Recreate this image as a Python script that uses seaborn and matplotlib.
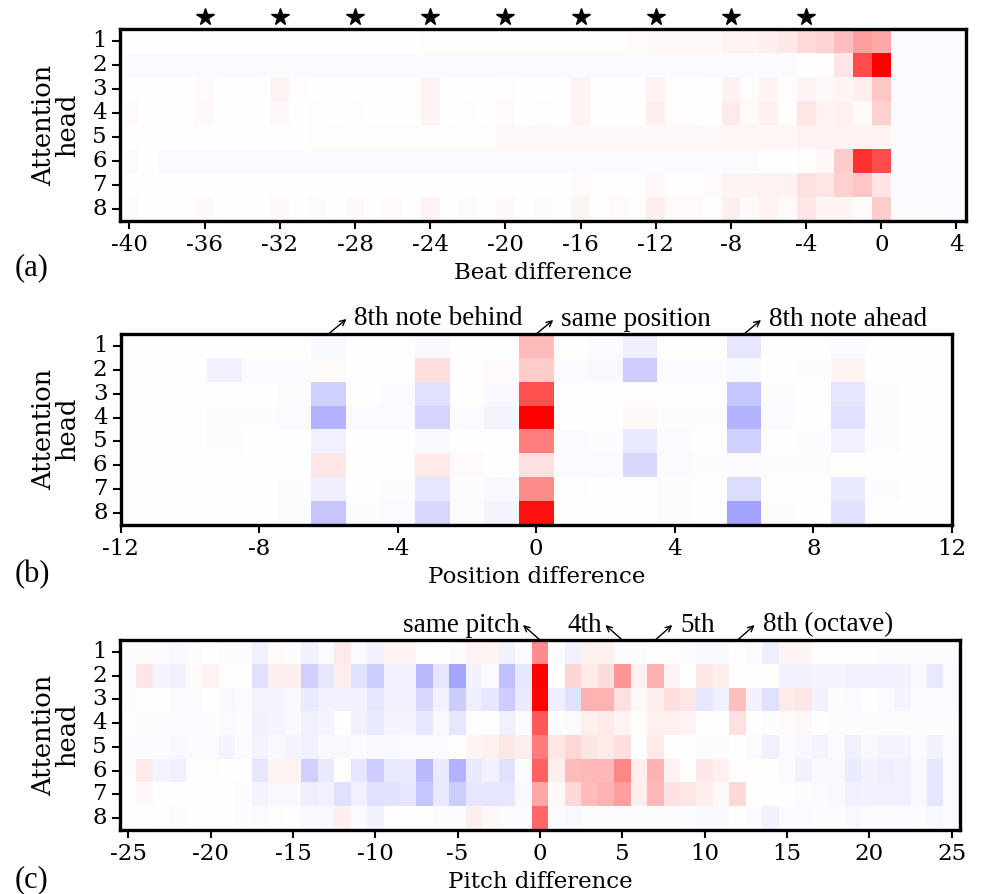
import numpy as np
import matplotlib
matplotlib.use('Agg')
import matplotlib.pyplot as plt
import pandas as pd
import seaborn as sns

plt.rcParams['font.family'] = 'DejaVu Serif'

heads = [1, 2, 3, 4, 5, 6, 7, 8]

# (a) beat difference, columns -40 .. 4
beat_diff = list(range(-40, 5))
beat_h1 = [0.0, 0.0, 0.0, 0.0, 0.0, 0.0, 0.0, 0.0, 0.0, 0.0, 0.0, 0.0, 0.0, 0.0, 0.0, 0.0,
           0.01, 0.01, 0.01, 0.01, 0.01, 0.01, 0.015, 0.015, 0.015, 0.015, 0.015,
           0.02, 0.03, 0.03, 0.03, 0.03, 0.05, 0.05, 0.07, 0.09, 0.15, 0.17, 0.25, 0.38,
           0.34, -0.02, -0.02, -0.02, -0.02]
beat_h2 = [-0.02] * 36 + [0.0, 0.01, 0.1, 0.7, 1.0, -0.02, -0.02, -0.02, -0.02]
beat_h3 = [0.0, 0.0, 0.0, 0.0, 0.02, 0.0, 0.0, 0.0, 0.04, 0.01, 0.0, 0.0, 0.005, 0.0,
           0.0, 0.0, 0.04, 0.0, 0.0, 0.0, 0.01, 0.0, 0.005, 0.0, 0.04, 0.0, 0.005,
           0.0, 0.05, 0.01, 0.01, 0.0, 0.05, 0.01, 0.04, 0.01, 0.04, 0.03, 0.04, 0.07,
           0.22, -0.02, -0.02, -0.02, -0.02]
beat_h4 = [0.02, 0.0, 0.0, 0.0, 0.03, 0.0, 0.0, 0.0, 0.03, 0.0, 0.01, 0.0, 0.01, 0.0,
           0.0, 0.0, 0.04, 0.0, 0.01, 0.0, 0.02, 0.005, 0.01, 0.0, 0.04, 0.005, 0.005,
           0.005, 0.07, 0.01, 0.01, 0.0, 0.08, 0.02, 0.06, 0.01, 0.1, 0.05, 0.06, 0.02,
           0.18, -0.02, -0.02, -0.02, -0.02]
beat_h5 = [0.0] * 10 + [0.015] * 10 + [0.025] * 12 + [0.035] * 4 + [0.05] * 4 + \
          [0.05, -0.02, -0.02, -0.02, -0.02]
beat_h6 = [-0.02, -0.005] + [-0.02] * 32 + [-0.005, 0.0, 0.01, 0.03, 0.2, 0.8, 0.7,
                                            -0.02, -0.02, -0.02, -0.02]
beat_h7 = [0.0] * 24 + [0.02, 0.01, 0.01, 0.01, 0.03, 0.01, 0.01, 0.02, 0.04, 0.04,
                        0.05, 0.05, 0.12, 0.1, 0.18, 0.22, 0.1,
                        -0.02, -0.02, -0.02, -0.02]
beat_h8 = [0.02, 0.0, 0.0, 0.0, 0.03, 0.0, 0.0, 0.0, 0.03, 0.0, 0.02, 0.0, 0.03, 0.0,
           0.02, 0.0, 0.04, 0.0, 0.02, 0.0, 0.03, 0.005, 0.02, 0.005, 0.04, 0.01, 0.02,
           0.01, 0.07, 0.02, 0.02, 0.01, 0.07, 0.02, 0.05, 0.02, 0.1, 0.04, 0.04, 0.02,
           0.2, -0.02, -0.02, -0.02, -0.02]
beat_ticks = [-40, -36, -32, -28, -24, -20, -16, -12, -8, -4, 0, 4]
beat_stars = [-36, -32, -28, -24, -20, -16, -12, -8, -4]

# (b) position difference, columns -12 .. 12
pos_diff = list(range(-12, 13))
pos_h1 = [0, 0, 0, 0, 0, 0, -0.03, 0, 0, -0.03, 0, 0, 0.27,
          0.0, -0.02, -0.07, 0, 0, -0.1, 0, 0, -0.02, 0, 0, 0]
pos_h2 = [0, 0, 0, -0.06, -0.02, -0.02, 0.02, 0, 0, 0.13, 0.01, 0.02, 0.2,
          -0.02, -0.03, -0.2, -0.02, -0.02, -0.03, 0, -0.01, 0.04, 0, 0, 0]
pos_h3 = [0, 0, 0, 0, 0, -0.01, -0.18, 0, -0.02, -0.12, 0, -0.03, 0.68,
          0, 0, 0.01, 0, 0, -0.22, -0.01, 0, -0.1, -0.01, 0, 0]
pos_h4 = [0, 0, 0, -0.01, -0.01, -0.02, -0.3, -0.02, -0.02, -0.17, -0.02, -0.04, 1.0,
          0.0, 0, 0.03, -0.01, -0.01, -0.3, -0.02, 0, -0.12, -0.01, 0, 0]
pos_h5 = [0, 0, 0, -0.01, 0, 0, -0.06, 0, 0, -0.03, 0, 0, 0.5,
          -0.02, -0.01, -0.08, -0.02, 0, -0.18, 0, -0.01, -0.06, -0.01, 0, 0]
pos_h6 = [0, 0, 0, 0, 0, 0, 0.1, 0, 0, 0.08, 0.02, 0, 0.12,
          -0.02, -0.02, -0.15, -0.02, -0.01, -0.02, -0.01, -0.01, 0, 0, 0, 0]
pos_h7 = [0, 0, 0, 0, 0, -0.01, -0.07, 0, -0.01, -0.1, -0.01, -0.03, 0.45,
          0.01, 0, 0, -0.01, 0, -0.14, 0, 0, -0.08, -0.01, 0, 0]
pos_h8 = [0, 0, 0, 0, 0, -0.01, -0.22, -0.01, -0.02, -0.15, -0.01, -0.04, 0.93,
          0, 0, 0, -0.01, 0, -0.36, -0.01, 0, -0.11, 0, 0, 0]
pos_ticks = [-12, -8, -4, 0, 4, 8, 12]

# (c) pitch difference, columns -25 .. 25
pitch_diff = list(range(-25, 26))
pitch_h1 = [-0.01, -0.01, -0.02, -0.03, -0.02, 0, -0.01, -0.01, -0.05, 0.02,
            -0.01, -0.05, -0.02, 0.08, -0.02, -0.05, 0.04, 0.04, 0.01, 0.0,
            -0.02, 0.05, 0.04, -0.05, -0.02, 0.45,
            -0.02, -0.05, 0.06, 0.06, -0.01, -0.01, 0.0, 0.01, -0.01, -0.03,
            -0.03, 0.01, -0.02, -0.07, 0.04, 0.04, 0, 0, 0.005, 0,
            -0.01, -0.01, -0.01, -0.01, -0.01]
pitch_h2 = [-0.02, 0.1, -0.04, -0.06, 0.02, 0.04, 0.0, 0.0, -0.12, 0.07,
            0.07, -0.18, -0.1, 0.07, -0.12, -0.2, -0.06, -0.05, -0.28, -0.1,
            -0.35, -0.05, -0.02, -0.25, -0.1, 1.0,
            0.01, 0.17, 0.08, 0.14, 0.42, 0.05, 0.3, 0.04, 0.0, 0.1,
            0.07, 0.0, 0.0, 0.01, -0.05, -0.05, -0.04, -0.04, -0.05, -0.05,
            -0.06, -0.05, -0.03, -0.09, -0.02]
pitch_h3 = [-0.01, 0, 0, -0.02, -0.02, 0.0, -0.03, -0.02, -0.04, -0.04,
            -0.03, -0.08, -0.05, -0.05, -0.05, -0.1, -0.05, -0.05, -0.15, -0.05,
            -0.2, -0.07, -0.1, -0.2, -0.08, 0.98,
            -0.07, -0.12, 0.3, 0.3, 0.12, 0.03, 0.07, 0.13, 0.1, -0.1,
            -0.06, 0.25, -0.05, -0.12, 0.08, 0.1, -0.05, -0.01, -0.02, 0,
            -0.01, -0.04, -0.02, -0.02, -0.02]
pitch_h4 = [0, -0.01, -0.01, -0.02, -0.02, -0.01, -0.02, -0.01, -0.05, -0.04,
            -0.03, -0.06, -0.04, 0.0, -0.05, -0.08, -0.04, -0.04, -0.1, -0.03,
            -0.1, 0.0, 0.0, -0.06, -0.02, 0.65,
            -0.01, -0.02, 0.06, 0.08, 0.05, 0.01, 0.06, 0.06, 0.05, 0,
            0, 0.12, 0, -0.01, 0.02, 0.03, 0, -0.01, -0.01, -0.01,
            -0.01, -0.01, -0.01, -0.01, -0.01]
pitch_h5 = [-0.01, -0.02, -0.01, -0.03, -0.02, -0.02, -0.04, -0.02, -0.04, -0.03,
            -0.04, -0.05, -0.03, -0.03, -0.02, -0.03, -0.03, -0.02, -0.02, -0.02,
            0.01, 0.04, 0.06, 0.1, 0.07, 0.52,
            0.1, 0.16, 0.1, 0.08, 0.13, 0.0, 0.08, 0.0, 0.0, -0.01,
            -0.01, 0.0, -0.02, -0.06, -0.02, -0.03, -0.04, -0.02, -0.06, -0.03,
            -0.04, -0.04, -0.02, -0.05, -0.02]
pitch_h6 = [-0.01, 0.08, -0.04, -0.06, 0.01, 0.01, 0, 0, -0.1, 0.05,
            0.05, -0.18, -0.08, 0.0, -0.1, -0.2, -0.08, -0.08, -0.27, -0.08,
            -0.3, -0.08, -0.06, -0.12, -0.02, 0.62,
            0.07, 0.27, 0.28, 0.28, 0.47, 0.06, 0.3, 0.05, 0.0, 0.09,
            0.06, 0.01, 0, 0.01, -0.02, -0.05, -0.03, -0.03, -0.08, -0.05,
            -0.07, -0.06, -0.03, -0.1, -0.02]
pitch_h7 = [0, 0.03, 0, 0, 0, 0, 0, -0.01, -0.04, -0.03,
            -0.03, -0.07, -0.05, -0.12, -0.06, -0.12, -0.12, -0.1, -0.22, -0.08,
            -0.2, -0.1, -0.1, -0.1, -0.03, 0.35,
            0.03, 0.15, 0.27, 0.3, 0.38, 0.07, 0.28, 0.12, 0.1, 0.07,
            0.03, 0.15, 0, 0, 0, -0.01, -0.02, -0.03, -0.06, -0.05,
            -0.06, -0.06, -0.03, -0.1, -0.02]
pitch_h8 = [0, 0.01, 0, -0.01, 0, 0, 0, -0.01, -0.02, 0.01,
            0.0, -0.03, -0.03, 0.07, -0.02, -0.05, 0.0, 0.0, 0.0, -0.01,
            -0.01, 0.07, 0.03, -0.02, -0.02, 0.6,
            -0.02, -0.03, -0.01, -0.01, -0.01, -0.01, -0.01, -0.01, -0.02, -0.03,
            -0.03, 0.01, -0.02, -0.05, -0.02, -0.02, -0.01, -0.01, -0.03, -0.02,
            -0.02, -0.02, -0.01, -0.03, -0.02]
pitch_ticks = [-25, -20, -15, -10, -5, 0, 5, 10, 15, 20, 25]


def draw_heatmap(ax, rows, xvals, xticks, xlabel, xlim):
    """
    Draws one attention heatmap (heads x difference) with the bwr colormap
    """
    df = pd.DataFrame(rows, index=heads, columns=xvals)
    sns.heatmap(df, ax=ax, cmap='bwr', vmin=-1, vmax=1, cbar=False)
    # seaborn puts cell i at i+0.5
    ax.set_xticks([xvals.index(t) + 0.5 for t in xticks])
    ax.set_xticklabels([str(t) for t in xticks], rotation=0)
    ax.set_yticks(np.arange(len(heads)) + 0.5)
    ax.set_yticklabels(heads, rotation=0)
    ax.set_xlim(xlim)
    ax.set_ylim(len(heads), 0)
    ax.tick_params(length=6, width=1.5, labelsize=16.5)
    for sp in ax.spines.values():
        sp.set_visible(True)
        sp.set_linewidth(2.4)
        sp.set_color('black')
    ax.set_xlabel(xlabel, fontsize=16.5, labelpad=4)
    ax.set_ylabel('Attention\nhead', fontsize=18.5, linespacing=0.95, labelpad=9)


def note(ax, xval, xvals, label, dx, dy, side):
    """
    Arrow from the top of a column to a text label
    """
    x = xvals.index(xval) + 0.5
    top = ax.get_xaxis_transform()
    ax.annotate('', xy=(x, 1.0), xycoords=top,
                xytext=(dx, dy), textcoords='offset pixels',
                arrowprops=dict(arrowstyle='<-', lw=1.0, color='black',
                                shrinkA=0, shrinkB=0, mutation_scale=10),
                annotation_clip=False)
    if side == 'right':
        ax.annotate(label, xy=(x, 1.0), xycoords=top,
                    xytext=(dx + 8, dy), textcoords='offset pixels',
                    ha='left', va='center', fontsize=19.5,
                    family='Liberation Serif', annotation_clip=False)
    else:
        ax.annotate(label, xy=(x, 1.0), xycoords=top,
                    xytext=(dx - 3, dy), textcoords='offset pixels',
                    ha='right', va='center', fontsize=19.5,
                    family='Liberation Serif', annotation_clip=False)


fig = plt.figure(figsize=(9.87, 8.94), dpi=100)
ax_a = fig.add_axes([0.1216, 0.753, 0.857, 0.2144])
ax_b = fig.add_axes([0.1223, 0.4128, 0.842, 0.2136])
ax_c = fig.add_axes([0.1216, 0.0716, 0.851, 0.2125])

# panel (a)
draw_heatmap(ax_a, [beat_h1, beat_h2, beat_h3, beat_h4, beat_h5, beat_h6,
                    beat_h7, beat_h8],
             beat_diff, beat_ticks, 'Beat difference', (0, len(beat_diff)))
star_x = [beat_diff.index(s) + 0.5 for s in beat_stars]
ax_a.plot(star_x, [1.065] * len(star_x), ls='none', marker='*', ms=13,
          color='black', transform=ax_a.get_xaxis_transform(), clip_on=False)

# panel (b)
draw_heatmap(ax_b, [pos_h1, pos_h2, pos_h3, pos_h4, pos_h5, pos_h6,
                    pos_h7, pos_h8],
             pos_diff, pos_ticks, 'Position difference', (0.5, len(pos_diff) - 0.5))
note(ax_b, -6, pos_diff, '8th note behind', 18, 15, 'right')
note(ax_b, 0, pos_diff, 'same position', 17, 14, 'right')
note(ax_b, 6, pos_diff, '8th note ahead', 17, 14, 'right')

# panel (c)
draw_heatmap(ax_c, [pitch_h1, pitch_h2, pitch_h3, pitch_h4, pitch_h5, pitch_h6,
                    pitch_h7, pitch_h8],
             pitch_diff, pitch_ticks, 'Pitch difference', (0, len(pitch_diff)))
note(ax_c, 0, pitch_diff, 'same pitch', -17, 15, 'left')
note(ax_c, 5, pitch_diff, '4th', -17, 15, 'left')
note(ax_c, 7, pitch_diff, '5th', 17, 15, 'right')
note(ax_c, 12, pitch_diff, '8th (octave)', 17, 15, 'right')

# panel letters
fig.text(0.015, 1 - 268 / 894, '(a)', fontsize=22, family='Liberation Serif', va='center')
fig.text(0.015, 1 - 575 / 894, '(b)', fontsize=22, family='Liberation Serif', va='center')
fig.text(0.015, 1 - 880 / 894, '(c)', fontsize=22, family='Liberation Serif', va='center')

plt.savefig('out.png', dpi=100)
